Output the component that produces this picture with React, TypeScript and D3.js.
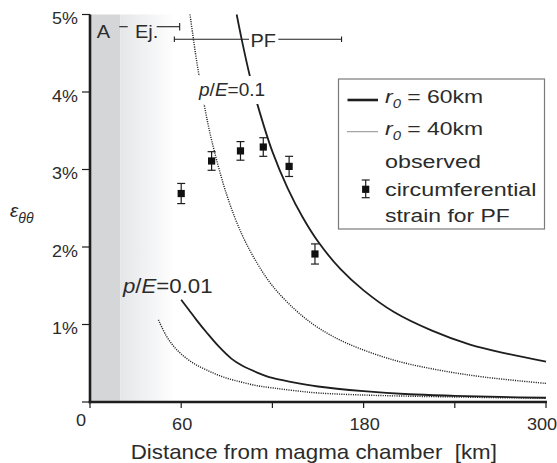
import React, { useEffect, useRef } from 'react';
import * as d3 from 'd3';

// model curves (distance km, strain %)
const hi60X = [96.5, 100, 105, 110, 120, 130, 140, 150, 165, 180, 200, 225, 250, 275, 300];
const hi60Y = [5.0, 4.66, 4.22, 3.85, 3.23, 2.76, 2.38, 2.07, 1.71, 1.44, 1.16, 0.92, 0.74, 0.62, 0.52];
const hi40X = [65.8, 70, 75, 80, 90, 100, 110, 120, 135, 150, 170, 200, 230, 260, 300];
const hi40Y = [5.0, 4.42, 3.85, 3.38, 2.67, 2.16, 1.79, 1.5, 1.19, 0.96, 0.75, 0.54, 0.41, 0.32, 0.24];
const lo60X = [60, 65, 70, 77, 85, 93, 100, 110, 120, 132, 150, 180, 210, 240, 270, 300];
const lo60Y = [1.32, 1.19, 1.06, 0.89, 0.71, 0.56, 0.47, 0.38, 0.31, 0.26, 0.2, 0.14, 0.1, 0.08, 0.065, 0.055];
const lo40X = [45, 50, 55, 60, 68, 77, 88, 99, 110, 121, 135, 151, 180, 210, 240, 270, 300];
const lo40Y = [1.06, 0.86, 0.72, 0.62, 0.5, 0.41, 0.32, 0.26, 0.21, 0.18, 0.145, 0.115, 0.09, 0.075, 0.065, 0.055, 0.05];

// observed circumferential strain for PF
const obsX = [60, 80, 99, 114, 131, 148];
const obsY = [2.69, 3.11, 3.24, 3.29, 3.04, 1.91];
const obsErr = [0.13, 0.12, 0.12, 0.12, 0.13, 0.13];

// zones / ranges (km)
const darkBand = [0, 20];
const fadeBand = [20, 56];
const ejectaEnd = 59;
const pfRange = [55.5, 165.5];

const xTicks = [0, 60, 120, 180, 240, 300];
const xTickLabels = [0, 60, 180, 300];
const yTicks = [0, 1, 2, 3, 4, 5];
const yTickLabels = [1, 2, 3, 4, 5];

const FONT = '"Liberation Sans", Arial, sans-serif';
const INK = '#1e1e1e';
const TXT = '#2b2b2b';

const App = () => {
  const ref = useRef(null);

  useEffect(() => {
    document.body.style.margin = '0';
    const svg = d3.select(ref.current);
    svg.selectAll('*').remove();
    svg.attr('font-family', FONT).attr('fill', TXT);

    const x = d3.scaleLinear().domain([0, 300]).range([90, 546]);
    const y = d3.scaleLinear().domain([0, 5]).range([402, 14.5]);

    const text = (str, tx, ty, size, sx, anchor = 'start') =>
      svg
        .append('text')
        .attr('transform', `translate(${tx},${ty}) scale(${sx},1)`)
        .attr('text-anchor', anchor)
        .attr('font-size', size)
        .text(str);

    // shaded zones
    const defs = svg.append('defs');
    const grad = defs.append('linearGradient').attr('id', 'fade').attr('x1', 0).attr('x2', 1).attr('y1', 0).attr('y2', 0);
    grad.append('stop').attr('offset', 0).attr('stop-color', '#e5e6e8');
    grad.append('stop').attr('offset', 1).attr('stop-color', '#ffffff');
    svg.append('rect')
      .attr('x', x(darkBand[0])).attr('y', y(5))
      .attr('width', x(darkBand[1]) - x(darkBand[0])).attr('height', y(0) - y(5))
      .attr('fill', '#d5d6d8');
    svg.append('rect')
      .attr('x', x(fadeBand[0])).attr('y', y(5))
      .attr('width', x(fadeBand[1]) - x(fadeBand[0])).attr('height', y(0) - y(5))
      .attr('fill', 'url(#fade)');

    // curves
    const line = d3.line().x((d) => x(d[0])).y((d) => y(d[1])).curve(d3.curveCatmullRom.alpha(0.5));
    const curve = (xs, ys, dotted) =>
      svg.append('path')
        .attr('d', line(xs.map((v, i) => [v, ys[i]])))
        .attr('fill', 'none')
        .attr('stroke', INK)
        .attr('stroke-width', dotted ? 1.4 : 1.8)
        .attr('stroke-dasharray', dotted ? '1.1 1.2' : null);
    curve(hi60X, hi60Y, false);
    curve(hi40X, hi40Y, true);
    curve(lo60X, lo60Y, false);
    curve(lo40X, lo40Y, true);

    // p/E labels (upper one masks the curves)
    svg.append('rect').attr('x', 193).attr('y', 76).attr('width', 77).attr('height', 28).attr('fill', '#fff');
    const pe = (val, tx, ty, size, sx) => {
      const t = svg.append('text')
        .attr('transform', `translate(${tx},${ty}) scale(${sx},1)`)
        .attr('font-size', size);
      t.append('tspan').attr('font-style', 'italic').text('p');
      t.append('tspan').text('/');
      t.append('tspan').attr('font-style', 'italic').text('E');
      t.append('tspan').text('=' + val);
    };
    pe('0.1', 199, 96, 18.5, 1.03);
    pe('0.01', 123, 293, 19.5, 1.14);

    // observed points
    obsX.forEach((v, i) => {
      const cx = x(v);
      const y1 = y(obsY[i] + obsErr[i]);
      const y2 = y(obsY[i] - obsErr[i]);
      svg.append('line').attr('x1', cx).attr('x2', cx).attr('y1', y1).attr('y2', y2).attr('stroke', INK).attr('stroke-width', 1.2);
      [y1, y2].forEach((yy) =>
        svg.append('line').attr('x1', cx - 4).attr('x2', cx + 4).attr('y1', yy).attr('y2', yy).attr('stroke', INK).attr('stroke-width', 1.2)
      );
      svg.append('rect').attr('x', cx - 3.6).attr('y', y(obsY[i]) - 3.6).attr('width', 7.2).attr('height', 7.2).attr('fill', '#111');
    });

    // A / Ej. / PF annotations
    text('A', 96.7, 38.3, 18.5, 1.08);
    svg.append('line').attr('x1', 119.3).attr('x2', 127.7).attr('y1', 26.7).attr('y2', 26.7).attr('stroke', INK).attr('stroke-width', 1.1);
    text('Ej.', 135, 38.3, 18.5, 1.08);
    svg.append('line').attr('x1', 156.7).attr('x2', x(ejectaEnd)).attr('y1', 26.7).attr('y2', 26.7).attr('stroke', INK).attr('stroke-width', 1.1);
    svg.append('line').attr('x1', x(ejectaEnd)).attr('x2', x(ejectaEnd)).attr('y1', 23).attr('y2', 30.5).attr('stroke', INK).attr('stroke-width', 1.1);
    svg.append('line').attr('x1', x(pfRange[0])).attr('x2', 249).attr('y1', 39.3).attr('y2', 39.3).attr('stroke', INK).attr('stroke-width', 1.1);
    svg.append('line').attr('x1', 278.3).attr('x2', x(pfRange[1])).attr('y1', 39.3).attr('y2', 39.3).attr('stroke', INK).attr('stroke-width', 1.1);
    pfRange.forEach((v) =>
      svg.append('line').attr('x1', x(v)).attr('x2', x(v)).attr('y1', 36.5).attr('y2', 42).attr('stroke', INK).attr('stroke-width', 1.1)
    );
    text('PF', 250.5, 46.7, 18.5, 1.08);

    // axes
    yTicks.forEach((v) =>
      svg.append('line').attr('x1', 82).attr('x2', 90).attr('y1', y(v)).attr('y2', y(v)).attr('stroke', INK).attr('stroke-width', 1.2)
    );
    xTicks.forEach((v) =>
      svg.append('line').attr('x1', x(v)).attr('x2', x(v)).attr('y1', 402).attr('y2', 408).attr('stroke', INK).attr('stroke-width', 1.2)
    );
    svg.append('line').attr('x1', 90).attr('x2', 90).attr('y1', y(5)).attr('y2', y(0) + 1.3).attr('stroke', INK).attr('stroke-width', 2.6);
    svg.append('line').attr('x1', 88.7).attr('x2', x(300) + 1).attr('y1', y(0)).attr('y2', y(0)).attr('stroke', INK).attr('stroke-width', 2.6);

    yTickLabels.forEach((v) => text(`${v}%`, 78, y(v) + 9.5, 16, 1.12, 'end'));
    xTickLabels.forEach((v) => {
      const dx = v === 0 ? -9 : v === 300 ? -4 : 1;
      text(`${v}`, x(v) + dx, v === 0 ? 426 : 430, 16.5, 1.1, 'middle');
    });

    text('Distance from magma chamber  [km]', 130.7, 459.3, 20.5, 1.09).style('white-space', 'pre');

    const yl = svg.append('text').attr('transform', 'translate(10,217)').attr('font-style', 'italic');
    yl.append('tspan').attr('font-size', 19).text('ε');
    yl.append('tspan').attr('font-size', 14).attr('dy', 6).text('θθ');

    // legend
    svg.append('rect').attr('x', 338.5).attr('y', 79).attr('width', 206).attr('height', 150)
      .attr('fill', '#fff').attr('stroke', '#7a7a7a').attr('stroke-width', 1.2);
    svg.append('line').attr('x1', 347.5).attr('x2', 378).attr('y1', 100).attr('y2', 100).attr('stroke', INK).attr('stroke-width', 2.6);
    svg.append('line').attr('x1', 347.5).attr('x2', 378).attr('y1', 131.7).attr('y2', 131.7).attr('stroke', INK)
      .attr('stroke-width', 1).attr('stroke-dasharray', '1 1');
    const r0 = (label, ty) => {
      const t = svg.append('text').attr('transform', `translate(385,${ty}) scale(1.24,1)`).attr('font-size', 18.5);
      t.append('tspan').attr('font-style', 'italic').text('r');
      t.append('tspan').attr('font-style', 'italic').attr('font-size', 12).attr('dy', 5).text('0');
      t.append('tspan').attr('dy', -5).style('white-space', 'pre').text(' = ' + label);
    };
    r0('60km', 103.3);
    r0('40km', 135);
    const mx = 365.7;
    svg.append('line').attr('x1', mx).attr('x2', mx).attr('y1', 180).attr('y2', 197.7).attr('stroke', INK).attr('stroke-width', 1.2);
    [180, 197.7].forEach((yy) =>
      svg.append('line').attr('x1', mx - 4).attr('x2', mx + 4).attr('y1', yy).attr('y2', yy).attr('stroke', INK).attr('stroke-width', 1.2)
    );
    svg.append('rect').attr('x', mx - 3.6).attr('y', 189.3 - 3.6).attr('width', 7.2).attr('height', 7.2).attr('fill', '#111');
    text('observed', 385, 167.7, 18.5, 1.26);
    text('circumferential', 385, 195.7, 18.5, 1.26);
    text('strain for PF', 385, 221.7, 18.5, 1.24);
  }, []);

  return <svg ref={ref} width={557} height={463} style={{ display: 'block' }} />;
};

export default App;
